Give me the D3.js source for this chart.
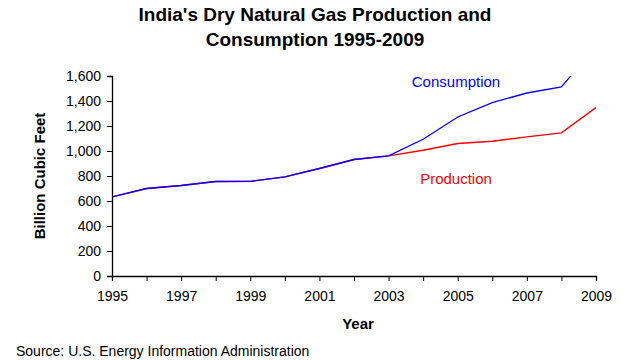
<!DOCTYPE html>
<html>
<head>
<meta charset="utf-8">
<script src="https://cdn.jsdelivr.net/npm/d3@7"></script>
<style>
  body { margin: 0; background: #fff; }
  svg { display: block; font-family: "Liberation Sans", Arial, sans-serif; }
</style>
</head>
<body>
<svg id="chart" width="640" height="360"></svg>
<script>
// values (billion cubic feet)
var years = [1995, 1996, 1997, 1998, 1999, 2000, 2001, 2002, 2003, 2004, 2005, 2006, 2007, 2008, 2009];
var consumption = [633, 700, 724, 756, 757, 793, 860, 932, 961, 1094, 1272, 1387, 1464, 1512, 1840];
var production = [633, 700, 724, 756, 757, 793, 860, 932, 961, 1006, 1060, 1078, 1113, 1145, 1347];
var yTicks = [0, 200, 400, 600, 800, 1000, 1200, 1400, 1600];
var xTickLabels = [1995, 1997, 1999, 2001, 2003, 2005, 2007, 2009];

var svg = d3.select("#chart");
var margin = { top: 76, right: 44, bottom: 84, left: 112 },
    width = 640 - margin.left - margin.right,
    height = 360 - margin.top - margin.bottom;

var x = d3.scaleLinear().domain([1995, 2009]).range([0, width]);
var y = d3.scaleLinear().domain([0, 1600]).range([height, 0]);

// title
svg.append("text")
    .attr("x", 315).attr("y", 21)
    .attr("text-anchor", "middle")
    .style("font-family", "'Liberation Sans Narrow', 'Arial Narrow', sans-serif")
    .style("font-weight", "bold").style("font-size", "19px")
    .text("India's Dry Natural Gas Production and");
svg.append("text")
    .attr("x", 315).attr("y", 46)
    .attr("text-anchor", "middle")
    .style("font-family", "'Liberation Sans Narrow', 'Arial Narrow', sans-serif")
    .style("font-weight", "bold").style("font-size", "19px")
    .text("Consumption 1995-2009");

var g = svg.append("g")
    .attr("transform", "translate(" + margin.left + "," + margin.top + ")");

svg.append("clipPath").attr("id", "plot-clip")
    .append("rect").attr("x", 0).attr("y", 0).attr("width", width).attr("height", height);

// lines
var line = d3.line()
    .x(function (d, i) { return x(years[i]); })
    .y(function (d) { return y(d); });

g.append("path")
    .datum(production)
    .attr("clip-path", "url(#plot-clip)")
    .attr("fill", "none")
    .attr("stroke", "#ff0000")
    .attr("stroke-width", 1.3)
    .attr("d", line);

g.append("path")
    .datum(consumption)
    .attr("clip-path", "url(#plot-clip)")
    .attr("fill", "none")
    .attr("stroke", "#0000ff")
    .attr("stroke-width", 1.3)
    .attr("d", line);

// axes
var yAxis = g.append("g")
    .call(d3.axisLeft(y).tickValues(yTicks).tickSize(5).tickPadding(6).tickFormat(d3.format(",")));
var xAxis = g.append("g")
    .attr("transform", "translate(0," + height + ")")
    .call(d3.axisBottom(x).tickValues(years).tickSize(5).tickPadding(10)
        .tickFormat(function (d) { return xTickLabels.indexOf(d) >= 0 ? d : ""; }));

[xAxis, yAxis].forEach(function (a) {
    a.select(".domain").attr("stroke", "#000").attr("stroke-width", 1.3);
    a.selectAll(".tick line").attr("stroke", "#000");
    a.selectAll(".tick text")
        .attr("fill", "#000")
        .style("font-size", "14px")
        .style("font-family", "'Liberation Sans', Arial, sans-serif");
});

// series labels
g.append("text")
    .attr("x", x(2004.95)).attr("y", y(1510))
    .attr("text-anchor", "middle")
    .attr("fill", "#0000ff").style("font-size", "15px")
    .text("Consumption");
g.append("text")
    .attr("x", x(2004.95)).attr("y", y(735))
    .attr("text-anchor", "middle")
    .attr("fill", "#ff0000").style("font-size", "15px")
    .text("Production");

// axis titles
svg.append("text")
    .attr("transform", "translate(45," + (margin.top + height / 2) + ") rotate(-90)")
    .attr("text-anchor", "middle")
    .style("font-weight", "bold").style("font-size", "15px")
    .text("Billion Cubic Feet");
svg.append("text")
    .attr("x", margin.left + width / 2 + 4).attr("y", 329)
    .attr("text-anchor", "middle")
    .style("font-weight", "bold").style("font-size", "15px")
    .text("Year");

// source note
svg.append("text")
    .attr("x", 16).attr("y", 356)
    .style("font-size", "14px")
    .text("Source: U.S. Energy Information Administration");
</script>
</body>
</html>
